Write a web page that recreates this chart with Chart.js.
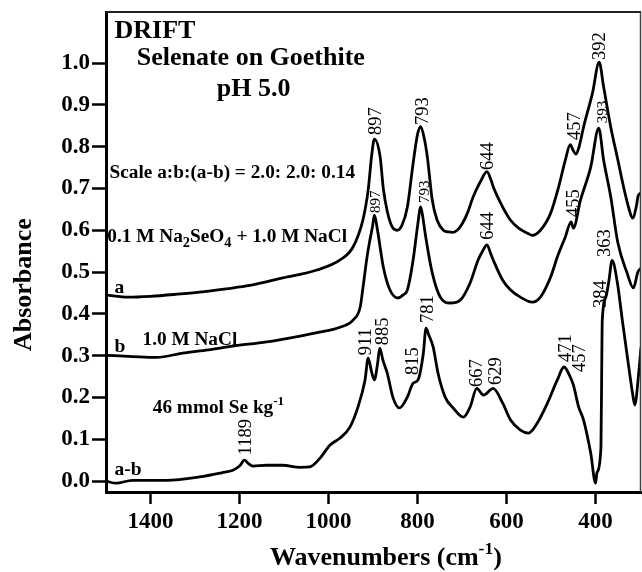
<!DOCTYPE html>
<html><head><meta charset="utf-8">
<script src="https://cdn.jsdelivr.net/npm/chart.js@4/dist/chart.umd.min.js"></script>
<style>html,body{margin:0;padding:0;background:#fff}#wrap{width:642px;height:572px}</style>
</head><body><div id="wrap"><canvas id="c" width="642" height="572"></canvas></div>
<script>
// ---- Data (wavenumber cm-1, absorbance) ----
const aWavenumbers = [1500,1450,1400,1340,1290,1230,1177,1103,1026,974,945,923,911,903,897,884,877,868,857,846,835,823,810,800,793,785,778,767,756,742,731,720,711,700,688,675,659,644,635,630,609,591,573,553,542,524,501,483,468,457,450,444,437,427,407,392,382,366,350,337,326,317,308,305,298];
const aAbsorbance  = [0.445,0.440,0.442,0.447,0.452,0.460,0.468,0.486,0.505,0.529,0.560,0.624,0.696,0.780,0.818,0.775,0.700,0.645,0.608,0.600,0.612,0.655,0.760,0.830,0.848,0.820,0.775,0.672,0.624,0.600,0.596,0.595,0.600,0.615,0.641,0.680,0.716,0.740,0.720,0.704,0.656,0.624,0.605,0.593,0.588,0.600,0.641,0.704,0.768,0.805,0.790,0.782,0.800,0.847,0.928,1.002,0.943,0.847,0.768,0.703,0.655,0.629,0.660,0.680,0.690];

const bWavenumbers = [1500,1440,1386,1328,1270,1215,1139,1064,1026,974,945,929,923,913,907,901,897,890,877,862,844,833,823,810,800,793,788,783,767,749,727,704,682,664,654,644,636,630,609,591,569,542,524,501,486,468,455,450,434,411,393,382,366,350,330,315,305,297];
const bAbsorbance  = [0.301,0.298,0.296,0.306,0.314,0.323,0.333,0.347,0.355,0.368,0.385,0.416,0.460,0.540,0.577,0.610,0.636,0.600,0.512,0.457,0.438,0.445,0.457,0.529,0.610,0.656,0.630,0.593,0.498,0.440,0.426,0.433,0.474,0.529,0.550,0.565,0.545,0.529,0.481,0.457,0.440,0.428,0.440,0.488,0.536,0.584,0.620,0.605,0.672,0.751,0.844,0.768,0.680,0.570,0.500,0.462,0.500,0.510];

const abWavenumbers = [1500,1477,1441,1364,1290,1240,1215,1200,1189,1180,1170,1139,1103,1064,1042,1019,997,974,952,934,918,911,903,897,890,885,878,868,855,841,823,810,799,787,781,775,765,754,738,720,697,682,667,652,630,609,591,569,551,531,508,486,471,457,450,438,427,411,400,397,388,386,385,377,370,363,351,340,329,317,312,303,298];
const abAbsorbance  = [0.000,-0.005,0.002,0.002,0.010,0.020,0.026,0.036,0.050,0.042,0.036,0.038,0.038,0.033,0.034,0.055,0.086,0.103,0.129,0.177,0.242,0.294,0.260,0.242,0.280,0.318,0.290,0.258,0.199,0.175,0.201,0.234,0.242,0.306,0.366,0.350,0.321,0.258,0.201,0.175,0.153,0.177,0.222,0.206,0.222,0.187,0.146,0.122,0.115,0.139,0.187,0.242,0.273,0.249,0.230,0.177,0.146,0.067,-0.005,0.020,0.080,0.300,0.385,0.440,0.480,0.528,0.474,0.385,0.300,0.210,0.182,0.260,0.320];

const xTickValues = [1400,1200,1000,800,600,400];
const yTickValues = [0.0,0.1,0.2,0.3,0.4,0.5,0.6,0.7,0.8,0.9,1.0];

// ---- Peak labels (text, anchor wavenumber, anchor absorbance, small) ----
const peakLabels = [
  ['897',895.5,0.828,0],['793',789,0.852,0],['644',643,0.744,0],['457',447.5,0.816,0],['392',393,1.007,0],
  ['897',895.5,0.641,1],['793',785,0.665,1],['644',643,0.577,0],['455',450,0.632,0],['393',386,0.856,1],
  ['911',918,0.301,0],['885',880,0.325,0],['815',812,0.254,0],['781',778,0.378,0],['667',668,0.225,0],
  ['629',625,0.230,0],['471',468,0.285,0],['457',438,0.261,0],['384',389,0.414,0],['363',380,0.536,0],
  ['1189',1188,0.062,0]
];

// ---- Text annotations (segments, anchor wavenumber, anchor absorbance, size) ----
const textNotes = [
  [[['DRIFT']],1481,1.060,26],
  [[['Selenate on Goethite']],1431,0.995,26],
  [[['pH 5.0']],1251,0.921,26],
  [[['Scale a:b:(a-b) = 2.0: 2.0: 0.14']],1492,0.725,19.3],
  [[['0.1 M Na'],['2','sub'],['SeO'],['4','sub'],[' + 1.0 M NaCl']],1497,0.572,19.3],
  [[['a']],1481,0.450,19.5],
  [[['b']],1481,0.309,19.5],
  [[['1.0 M NaCl']],1418,0.325,19.3],
  [[['46 mmol Se kg'],['-1','sup']],1395,0.163,19.3],
  [[['a-b']],1481,0.014,19.5]
];

const SERIF = "'Liberation Serif','Times New Roman',serif";

function drawRich(ctx, x, y, segs, size, bold) {
  let cx = x;
  for (const [t, kind] of segs) {
    let s = size, dy = 0;
    if (kind === 'sub') { s = size * 0.75; dy = size * 0.28; }
    if (kind === 'sup') { s = size * 0.68; dy = -size * 0.42; }
    ctx.font = (bold ? 'bold ' : '') + s + 'px ' + SERIF;
    ctx.fillText(t, cx, y + dy);
    cx += ctx.measureText(t).width;
  }
  return cx - x;
}

const annotPlugin = {
  id: 'annot',
  afterDatasetsDraw(chart) {
    const ctx = chart.ctx, xs = chart.scales.x, ys = chart.scales.y, ca = chart.chartArea;
    ctx.save();
    ctx.fillStyle = '#000';
    ctx.textBaseline = 'alphabetic';
    ctx.textAlign = 'left';
    for (const [segs, wn, ab, size] of textNotes) {
      drawRich(ctx, xs.getPixelForValue(wn), ys.getPixelForValue(ab), segs, size, true);
    }
    for (const [t, wn, ab, small] of peakLabels) {
      const px = xs.getPixelForValue(wn), py = ys.getPixelForValue(ab);
      ctx.save();
      ctx.translate(px, py);
      ctx.rotate(-Math.PI / 2);
      ctx.font = (small ? 15 : 18.5) + 'px ' + SERIF;
      ctx.textBaseline = 'middle';
      ctx.textAlign = 'left';
      ctx.fillText(t, 0, 1);
      ctx.restore();
    }
    ctx.strokeStyle = '#222';
    ctx.lineWidth = 2;
    ctx.beginPath(); ctx.moveTo(ca.left, ca.top); ctx.lineTo(ca.right, ca.top); ctx.stroke();
    ctx.strokeStyle = '#444';
    ctx.lineWidth = 1.5;
    ctx.beginPath(); ctx.moveTo(ca.right - 0.5, ca.top); ctx.lineTo(ca.right - 0.5, ca.bottom); ctx.stroke();
    ctx.textBaseline = 'alphabetic';
    ctx.save();
    ctx.translate(31, ys.getPixelForValue(0.47));
    ctx.rotate(-Math.PI / 2);
    ctx.textAlign = 'center';
    ctx.font = 'bold 26px ' + SERIF;
    ctx.fillText('Absorbance', 0, 0);
    ctx.restore();
    const segs = [['Wavenumbers (cm'], ['-1', 'sup'], [')']];
    ctx.textAlign = 'left';
    let w = 0;
    for (const [t, k] of segs) { ctx.font = 'bold ' + (k ? 26 * 0.68 : 26) + 'px ' + SERIF; w += ctx.measureText(t).width; }
    const cxm = xs.getPixelForValue(871);
    drawRich(ctx, cxm - w / 2, 565, segs, 26, true);
    ctx.restore();
  }
};

function toPts(xs, ys) { return xs.map((w, i) => ({ x: w, y: ys[i] })); }
const lineStyle = { borderColor: '#000', borderWidth: 2.8, pointRadius: 0, fill: false, cubicInterpolationMode: 'monotone' };

new Chart(document.getElementById('c'), {
  type: 'line',
  data: {
    datasets: [
      Object.assign({ label: 'a', data: toPts(aWavenumbers, aAbsorbance) }, lineStyle),
      Object.assign({ label: 'b', data: toPts(bWavenumbers, bAbsorbance) }, lineStyle),
      Object.assign({ label: 'a-b', data: toPts(abWavenumbers, abAbsorbance) }, lineStyle)
    ]
  },
  options: {
    responsive: false,
    animation: false,
    devicePixelRatio: 1,
    layout: { padding: { top: 12, right: 1, left: 0, bottom: 0 } },
    plugins: { legend: { display: false }, tooltip: { enabled: false } },
    scales: {
      x: {
        type: 'linear', reverse: true, min: 298, max: 1500,
        afterBuildTicks: s => { s.ticks = xTickValues.map(v => ({ value: v })); },
        afterFit: s => { s.height = 80; s.paddingLeft = 0; s.paddingRight = 0; },
        ticks: { color: '#000', font: { family: SERIF, size: 23, weight: 'bold' }, padding: 4, maxRotation: 0, autoSkip: false, callback: v => String(v) },
        grid: { drawOnChartArea: false, drawTicks: true, tickLength: 12, tickWidth: 2.5, tickColor: '#000' },
        border: { display: true, color: '#000', width: 3 }
      },
      y: {
        type: 'linear', min: -0.026, max: 1.122,
        afterBuildTicks: s => { s.ticks = yTickValues.map(v => ({ value: v })); },
        afterFit: s => { s.width = 106; s.paddingTop = 0; s.paddingBottom = 0; },
        ticks: { color: '#000', font: { family: SERIF, size: 23, weight: 'bold' }, padding: 2, callback: v => Number(v).toFixed(1) },
        grid: { drawOnChartArea: false, drawTicks: true, tickLength: 14, tickWidth: 2.5, tickColor: '#000' },
        border: { display: true, color: '#000', width: 3 }
      }
    }
  },
  plugins: [annotPlugin]
});
</script></body></html>
